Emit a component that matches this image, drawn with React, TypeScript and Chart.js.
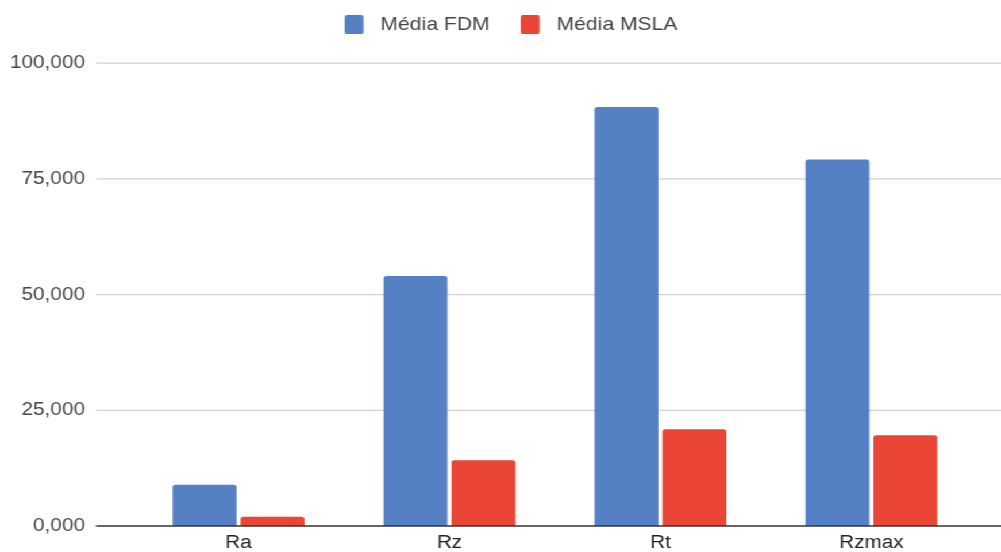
import { useEffect, useRef } from 'react';
import { Chart, registerables } from 'chart.js';

Chart.register(...registerables);

// Surface roughness means (Ra, Rz, Rt, Rzmax) for the two printing processes
const categories = ['Ra', 'Rz', 'Rt', 'Rzmax'];
const seriesNames = ['Média FDM', 'Média MSLA'];
const fdmValues = [8.9, 54.0, 90.5, 79.2];
const mslaValues = [2.0, 14.2, 20.9, 19.6];
const yTickValues = [0, 25, 50, 75, 100];

// Drawing surface: rendered narrower, then widened horizontally to the page width
const CANVAS_W = 871;
const CANVAS_H = 552;
const STRETCH = 1001 / CANVAS_W;

const BLUE = '#5580C3';
const RED = '#EA4535';
const FONT = '"Liberation Sans", Arial, Helvetica, sans-serif';

// Legend swatch with a transparent lead-in, so the colour box sits apart from its text
function makeSwatch(color: string): HTMLCanvasElement {
  const c = document.createElement('canvas');
  c.width = 39;
  c.height = 19;
  const g = c.getContext('2d')!;
  g.fillStyle = color;
  g.beginPath();
  g.roundRect(17, 0, 16.5, 19, 2);
  g.fill();
  return c;
}

const fmt = (v: number) => Number(v).toFixed(3).replace('.', ',');

// Horizontal grid lines that run past the plot area, under the bars, plus the dark baseline on top
const wideGrid = {
  id: 'wideGrid',
  beforeDatasetsDraw(chart: any) {
    const { ctx, chartArea } = chart;
    const y = chart.scales.y;
    ctx.save();
    ctx.strokeStyle = '#d2d2d2';
    ctx.lineWidth = 1.3;
    y.ticks.forEach((t: any) => {
      if (t.value === 0) return;
      const py = y.getPixelForValue(t.value);
      ctx.beginPath();
      ctx.moveTo(chartArea.left - 32.3, py);
      ctx.lineTo(chart.width, py);
      ctx.stroke();
    });
    ctx.restore();
  },
  afterDatasetsDraw(chart: any) {
    const { ctx, chartArea } = chart;
    const y = chart.scales.y;
    const py = y.getPixelForValue(0);
    ctx.save();
    ctx.strokeStyle = '#333333';
    ctx.lineWidth = 1.5;
    ctx.beginPath();
    ctx.moveTo(chartArea.left - 32.3, py);
    ctx.lineTo(chart.width, py);
    ctx.stroke();
    ctx.restore();
  },
};

// Extra space between the legend and the plot, and a small rightward nudge of the legend row
const legendGap = {
  id: 'legendGap',
  beforeInit(chart: any) {
    const lg = chart.legend;
    if (!lg) return;
    const orig = lg.fit;
    lg.fit = function () {
      orig.call(this);
      this.height += 19.2;
    };
  },
  afterLayout(chart: any) {
    const lg = chart.legend;
    if (!lg) return;
    lg.left += 7.2;
    lg.right += 7.2;
  },
};

export default function App() {
  const canvasRef = useRef<HTMLCanvasElement | null>(null);

  useEffect(() => {
    const canvas = canvasRef.current;
    if (!canvas) return;
    document.body.style.margin = '0';
    const swatches = [makeSwatch(BLUE), makeSwatch(RED)];

    const chart = new Chart(canvas, {
      type: 'bar',
      data: {
        labels: categories,
        datasets: [
          {
            label: seriesNames[0],
            data: fdmValues,
            backgroundColor: BLUE,
            borderRadius: 2.5,
            categoryPercentage: 0.644,
            barPercentage: 0.941,
          },
          {
            label: seriesNames[1],
            data: mslaValues,
            backgroundColor: RED,
            borderRadius: 2.5,
            categoryPercentage: 0.644,
            barPercentage: 0.941,
          },
        ],
      },
      options: {
        animation: false,
        responsive: false,
        maintainAspectRatio: false,
        devicePixelRatio: 1,
        layout: { padding: { left: 8, right: 21, top: 5.5, bottom: 0 } },
        font: { family: FONT },
        plugins: {
          tooltip: { enabled: false },
          legend: {
            position: 'top',
            align: 'center',
            labels: {
              font: { family: FONT, size: 18.4 },
              color: '#444444',
              usePointStyle: true,
              pointStyleWidth: 39,
              boxHeight: 18,
              padding: 10,
              generateLabels: (c: any) =>
                Chart.defaults.plugins.legend.labels
                  .generateLabels(c)
                  .map((item: any, i: number) => ({ ...item, pointStyle: swatches[i] })),
            },
          },
        },
        scales: {
          x: {
            type: 'category',
            offset: true,
            grid: { display: false, drawTicks: true, tickLength: 8 },
            border: { display: false },
            ticks: {
              font: { family: FONT, size: 18, lineHeight: 1 },
              color: '#222222',
              padding: 0,
              maxRotation: 0,
            },
          },
          y: {
            min: 0,
            max: 100,
            grid: { display: false, drawTicks: true, tickLength: 41.9 },
            border: { display: false },
            afterBuildTicks: (s: any) => {
              s.ticks = yTickValues.map((v) => ({ value: v }));
            },
            afterFit: (s: any) => {
              s.width = 107.8;
            },
            ticks: {
              font: { family: FONT, size: 18 },
              color: '#444444',
              padding: 0,
              callback: (v: any) => fmt(Number(v)),
            },
          },
        },
      },
      plugins: [wideGrid, legendGap],
    } as any);

    return () => chart.destroy();
  }, []);

  return (
    <div
      style={{
        position: 'fixed',
        left: 0,
        top: 0,
        width: CANVAS_W,
        height: CANVAS_H,
        transform: `scaleX(${STRETCH})`,
        transformOrigin: '0 0',
        background: '#ffffff',
      }}
    >
      <canvas ref={canvasRef} width={CANVAS_W} height={CANVAS_H} />
    </div>
  );
}
